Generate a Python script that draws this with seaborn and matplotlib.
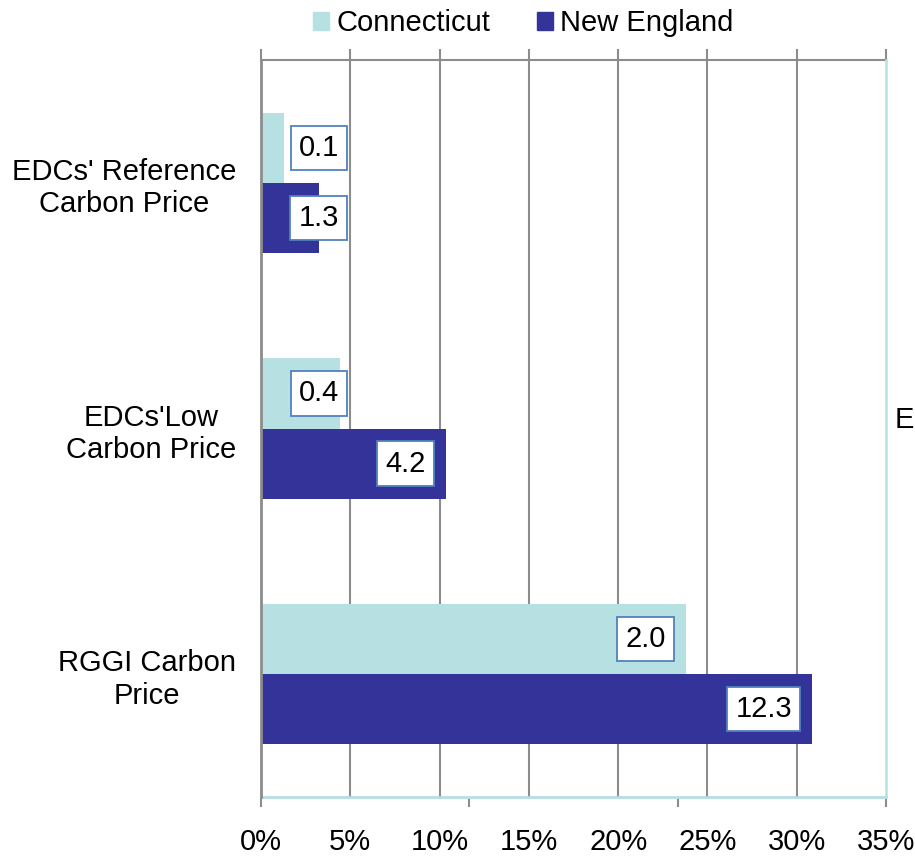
import numpy as np
import pandas as pd
import seaborn as sns
import matplotlib.pyplot as plt
from matplotlib.patches import Patch

# дані з графіка
scenarios = ["EDCs' Reference\nCarbon Price", "EDCs'Low\nCarbon Price", "RGGI Carbon\nPrice"]
regions = ["Connecticut", "New England"]
ct_pct = [1.3, 4.4, 23.8]
ne_pct = [3.25, 10.35, 30.85]
ct_labels = ["0.1", "0.4", "2.0"]
ne_labels = ["1.3", "4.2", "12.3"]
x_ticks = [0, 5, 10, 15, 20, 25, 30, 35]

df = pd.DataFrame({
    "scenario": scenarios * 2,
    "region": [regions[0]] * 3 + [regions[1]] * 3,
    "pct": ct_pct + ne_pct,
    "label": ct_labels + ne_labels,
})

light = "#B7E0E3"
dark = "#333399"
grid_gray = "#8C8C8C"
fs = 21

sns.set_style("white")
plt.rcParams['font.family'] = ['Liberation Sans', 'DejaVu Sans']
plt.rcParams['text.color'] = 'black'
plt.rcParams['xtick.labelcolor'] = 'black'
plt.rcParams['ytick.labelcolor'] = 'black'

fig = plt.figure(figsize=(9.15, 8.59), dpi=100)
ax = fig.add_axes([261 / 915, 1 - 797 / 859, 625 / 915, 737 / 859])

sns.barplot(data=df, x="pct", y="scenario", hue="region", orient="h",
            palette=[light, dark], width=0.57, saturation=1, ax=ax,
            legend=False, zorder=3, linewidth=0)

ax.set_xlim(0, 35)
ax.set_ylim(2.5, -0.5)
ax.set_xlabel("")
ax.set_ylabel("")

# сітка та осі
ax.set_xticks(x_ticks)
ax.set_xticklabels([f"{t}%" for t in x_ticks], fontsize=fs, color="black")
ax.tick_params(axis="x", length=0, pad=22)
for t in x_ticks[1:-1]:
    ax.axvline(t, color=grid_gray, lw=1.5, zorder=1)

ax.set_yticks(range(3))
ax.set_yticklabels(scenarios, fontsize=fs, multialignment="center", linespacing=1.2, color="black")
ax.tick_params(axis="y", length=0, pad=18)
ax.set_yticks([-0.5, 0.5, 1.5, 2.5], minor=True)
ax.tick_params(axis="y", which="minor", length=8, width=1.5, color=grid_gray, direction="out")

ax.spines["left"].set_color(grid_gray)
ax.spines["left"].set_linewidth(2)
ax.spines["left"].set_zorder(4)
ax.spines["top"].set_visible(False)
ax.spines["right"].set_color(light)
ax.spines["right"].set_linewidth(1.8)
ax.spines["bottom"].set_color(light)
ax.spines["bottom"].set_linewidth(1.8)

top = ax.secondary_xaxis("top")
top.set_xticks(x_ticks)
top.set_xticklabels([])
top.tick_params(length=8, width=1.5, color=grid_gray, direction="out")
top.spines["top"].set_color(grid_gray)
top.spines["top"].set_linewidth(1.5)

bot = ax.secondary_xaxis("bottom")
bot.set_xticks(np.linspace(0, 35, 4))
bot.set_xticklabels([])
bot.tick_params(length=7, width=1.5, color=grid_gray, direction="out")
bot.spines["bottom"].set_color(light)
bot.spines["bottom"].set_linewidth(1.8)

# підписи значень
px = 35 / 625
for container, labels in zip(ax.containers, [ct_labels, ne_labels]):
    for bar, lab in zip(container, labels):
        end = bar.get_width()
        xr = max(end - 20 * px, 78 * px)
        yc = bar.get_y() + bar.get_height() / 2
        ax.text(xr, yc, lab, ha="right", va="center", fontsize=fs, zorder=5, color="black",
                bbox=dict(boxstyle="square,pad=0.28", fc="white", ec="#4F81BD", lw=1.3))

handles = [Patch(color=light, label=regions[0]), Patch(color=dark, label=regions[1])]
fig.legend(handles=handles, loc="upper center", bbox_to_anchor=(0.572, 1.02), ncol=2,
           frameon=False, fontsize=fs, handlelength=0.55, handleheight=0.55,
           handletextpad=0.25, columnspacing=1.6, labelcolor="black")

fig.text(914 / 915, 1 - 420 / 859, "E", fontsize=fs, ha="right", va="center", color="black")

fig.savefig("out.png", dpi=100)
